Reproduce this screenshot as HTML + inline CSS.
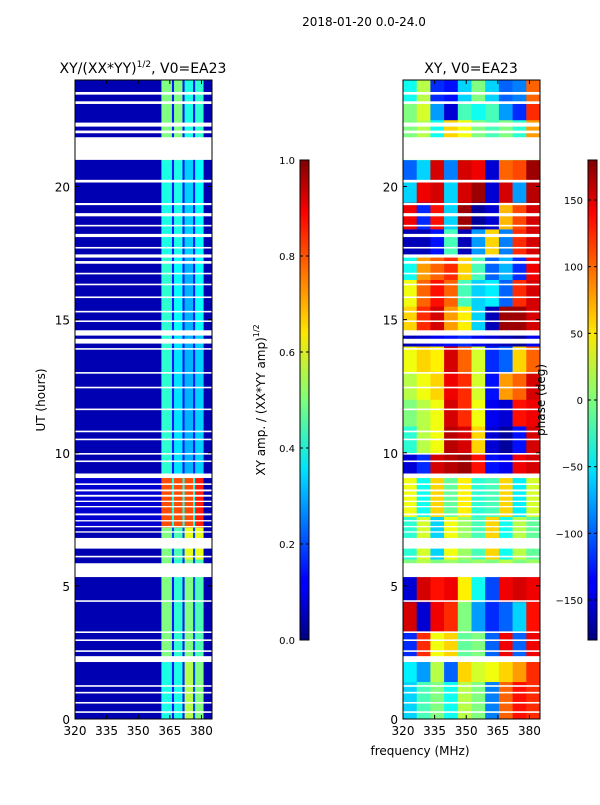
<!DOCTYPE html>
<html><head><meta charset="utf-8"><style>
body{margin:0;background:#fff;}
svg text{font-family:"DejaVu Sans","Liberation Sans",sans-serif;fill:#000;}
</style></head><body>
<svg id="fig" width="600" height="800" viewBox="0 0 600 800" xmlns="http://www.w3.org/2000/svg">
<defs>
<linearGradient id="jet" x1="0" y1="1" x2="0" y2="0">
<stop offset="0" stop-color="#00007f"/><stop offset="0.11" stop-color="#0000ff"/><stop offset="0.125" stop-color="#0000ff"/>
<stop offset="0.34" stop-color="#00d4ff"/><stop offset="0.36" stop-color="#00e5f7"/><stop offset="0.5" stop-color="#7dff7a"/>
<stop offset="0.64" stop-color="#ffe600"/><stop offset="0.89" stop-color="#ff0000"/><stop offset="1" stop-color="#7f0000"/>
</linearGradient>
</defs>
<text x="364" y="26" font-size="12" text-anchor="middle">2018-01-20 0.0-24.0</text>
<text x="143" y="73" font-size="14" text-anchor="middle">XY/(XX*YY)<tspan font-size="9" dy="-6">1/2</tspan><tspan dy="6">, V0=EA23</tspan></text>
<text x="471" y="73" font-size="14" text-anchor="middle">XY, V0=EA23</text>
<g id="left"></g>
<g id="right"></g>
<text transform="translate(45,400) rotate(-90)" font-size="12" text-anchor="middle">UT (hours)</text>
<text x="420" y="755" font-size="12" text-anchor="middle">frequency (MHz)</text>
<g id="cb1"></g>
<g id="cb2"></g>
<text transform="translate(265,400) rotate(-90)" font-size="12" text-anchor="middle">XY amp. / (XX*YY amp)<tspan font-size="8" dy="-6">1/2</tspan></text>
<text transform="translate(545,400) rotate(-90)" font-size="12" text-anchor="middle">phase (deg)</text>
</svg>
<script>
const timeTicks=[0,5,10,15,20];
const freqTicks=[320,335,350,365,380];
const ampTicks=[0.0,0.2,0.4,0.6,0.8,1.0];
const phaseTicks=[-150,-100,-50,0,50,100,150];
const gaps=[[23.45,23.55],[23.1,23.2],[22.25,22.4],[22.0,22.1],[21.0,21.85],[20.15,20.25],[19.3,19.38],[18.88,19.0],[18.5,18.56],[18.1,18.22],[17.67,17.73],[17.33,17.45],[17.1,17.2],[16.7,16.76],[16.29,16.35],[15.81,15.87],[15.27,15.33],[14.91,14.97],[14.4,14.6],[14.1,14.28],[13.87,13.93],[12.97,13.03],[12.42,12.48],[11.6,11.66],[10.77,10.83],[10.47,10.53],[9.93,9.99],[9.65,9.71],[9.05,9.22],[8.79,8.85],[8.55,8.62],[8.35,8.42],[8.15,8.2],[7.95,8.0],[7.65,7.72],[7.42,7.47],[7.2,7.25],[7.0,7.05],[6.4,6.8],[6.07,6.13],[5.33,5.85],[4.4,4.46],[3.23,3.29],[2.93,2.99],[2.52,2.58],[2.14,2.36],[1.21,1.27],[0.96,1.02],[0.58,0.64],[0.23,0.29]];
const ampFreqEdges=[320,361,366,367,371,372,376,377,381,385];
const ampTimeEdges=[0,2.3,5.4,6,7.2,9.2,14.6,17.4,21,24];
const ampValues=[
[0.05,0.4,0.15,0.4,0.15,0.55,0.2,0.5,0.05],
[0.05,0.5,0.15,0.42,0.15,0.5,0.2,0.45,0.05],
[0.05,0.5,0.15,0.42,0.15,0.5,0.2,0.45,0.05],
[0.05,0.5,0.2,0.45,0.2,0.6,0.2,0.6,0.05],
[0.08,0.8,0.4,0.8,0.4,0.8,0.4,0.85,0.05],
[0.05,0.42,0.15,0.35,0.15,0.3,0.15,0.33,0.05],
[0.05,0.42,0.15,0.38,0.15,0.3,0.15,0.38,0.05],
[0.05,0.4,0.15,0.4,0.15,0.33,0.15,0.38,0.05],
[0.05,0.5,0.15,0.5,0.15,0.4,0.15,0.42,0.05]];
const phFreqEdges=[320,326.5,333,339.5,346,352.5,359,365.5,372,378.5,385];
const phTimeEdges=[0,1.4,2.3,3.3,4.4,5.4,6,7.6,9.2,10,11,12,13,14,14.6,15.5,16.5,17.4,18.4,19.4,20.2,21,21.85,22.5,23.2,24];
const phValues=[
[-60,-20,0,-40,20,0,-90,100,130,120],
[-50,-80,20,-100,60,30,40,60,80,120],
[-120,120,40,60,-10,0,-100,140,-100,140],
[150,-150,140,120,0,-80,-120,-100,-60,130],
[-150,150,130,140,50,-40,-110,140,150,140],
[0,20,0,10,0,10,0,20,0,10],
[-30,30,-60,40,10,-20,60,-40,20,-10],
[40,-40,60,-10,50,-30,-20,60,-50,30],
[-150,-120,150,160,170,130,-130,-140,140,150],
[-30,20,40,160,150,60,-150,-170,-130,150],
[0,20,40,150,120,40,-140,-150,130,140],
[20,40,60,140,120,30,-130,80,100,150],
[40,60,50,150,100,30,-120,-100,60,100],
[-160,-150,-140,-130,-120,-140,-150,-160,-170,-140],
[60,120,150,80,50,-60,-160,170,170,150],
[40,100,130,100,-20,-60,-50,-100,120,150],
[-40,80,100,120,60,-20,-100,-70,-120,140],
[-160,-160,-130,-20,-160,-80,60,-90,120,150],
[140,-120,130,-60,170,-170,-150,70,110,150],
[-60,140,150,-60,150,170,-150,150,-80,160],
[-100,-60,150,-90,150,140,-150,100,110,170],
[0,0,0,0,0,0,0,0,0,0],
[0,20,-40,60,40,0,-20,0,-30,80],
[0,30,-80,-150,-20,-40,-20,-80,-120,120],
[-40,20,-120,-130,-60,0,-60,-100,-90,100]];

const NS='http://www.w3.org/2000/svg';
const Y0=719,Y1=80,FMIN=320,FMAX=385;
function yS(h){return Y0-(h/24)*(Y0-Y1);}
function jet(t){t=Math.max(0,Math.min(1,t));
 const r=Math.max(0,Math.min(1,1.5-Math.abs(4*t-3))),g=Math.max(0,Math.min(1,1.5-Math.abs(4*t-2))),b=Math.max(0,Math.min(1,1.5-Math.abs(4*t-1)));
 return 'rgb('+Math.round(r*255)+','+Math.round(g*255)+','+Math.round(b*255)+')';}
function mk(tag,attrs,parent){const e=document.createElementNS(NS,tag);for(const k in attrs)e.setAttribute(k,attrs[k]);parent.appendChild(e);return e;}
function panel(g,x0,x1,fEdges,tEdges,vals,norm){
 const xS=f=>x0+(f-FMIN)/(FMAX-FMIN)*(x1-x0);
 for(let i=0;i<vals.length;i++)for(let j=0;j<vals[i].length;j++){
  const r=mk('rect',{x:xS(fEdges[j]),y:yS(tEdges[i+1]),width:xS(fEdges[j+1])-xS(fEdges[j])+0.3,height:yS(tEdges[i])-yS(tEdges[i+1])+0.3,fill:jet(norm(vals[i][j]))},g);
  
  
 }
 gaps.forEach(gp=>{const r=mk('rect',{x:x0,y:yS(gp[1]),width:x1-x0,height:yS(gp[0])-yS(gp[1]),fill:'#fff'},g);
  
  });
 const fr=mk('rect',{x:x0,y:Y1,width:x1-x0,height:Y0-Y1,fill:'none',stroke:'#000','stroke-width':1},g);
 
 
 freqTicks.forEach(f=>{const x=xS(f);
  mk('line',{x1:x,x2:x,y1:Y0,y2:Y0-4,stroke:'#000'},g);mk('line',{x1:x,x2:x,y1:Y1,y2:Y1+4,stroke:'#000'},g);
  const t=mk('text',{x:x,y:Y0+16,'font-size':12,'text-anchor':'middle'},g);t.textContent=f;
  
  });
 timeTicks.forEach(h=>{const y=yS(h);
  mk('line',{x1:x0,x2:x0+4,y1:y,y2:y,stroke:'#000'},g);mk('line',{x1:x1,x2:x1-4,y1:y,y2:y,stroke:'#000'},g);
  const t=mk('text',{x:x0-5,y:y+5,'font-size':12,'text-anchor':'end'},g);t.textContent=h;
  
  });
}
panel(document.getElementById('left'),75,212,ampFreqEdges,ampTimeEdges,ampValues,v=>v);
panel(document.getElementById('right'),403,540,phFreqEdges,phTimeEdges,phValues,v=>(v+180)/360);
function cbar(g,x,ticks,vmin,vmax,fmt){
 mk('rect',{x:x,y:160,width:9,height:480,fill:'url(#jet)',stroke:'#000','stroke-width':1},g);
 ticks.forEach(v=>{const y=640-(v-vmin)/(vmax-vmin)*480;
  mk('line',{x1:x,x2:x+3,y1:y,y2:y,stroke:'#000'},g);mk('line',{x1:x+9,x2:x+6,y1:y,y2:y,stroke:'#000'},g);
  const t=mk('text',{x:x-5,y:y+4,'font-size':10,'text-anchor':'end'},g);t.textContent=fmt(v);
  
  });
}
cbar(document.getElementById('cb1'),300,ampTicks,0,1,v=>v.toFixed(1));
cbar(document.getElementById('cb2'),588,phaseTicks,-180,180,v=>v<0?'\u2212'+(-v):String(v));
</script>
</body></html>
